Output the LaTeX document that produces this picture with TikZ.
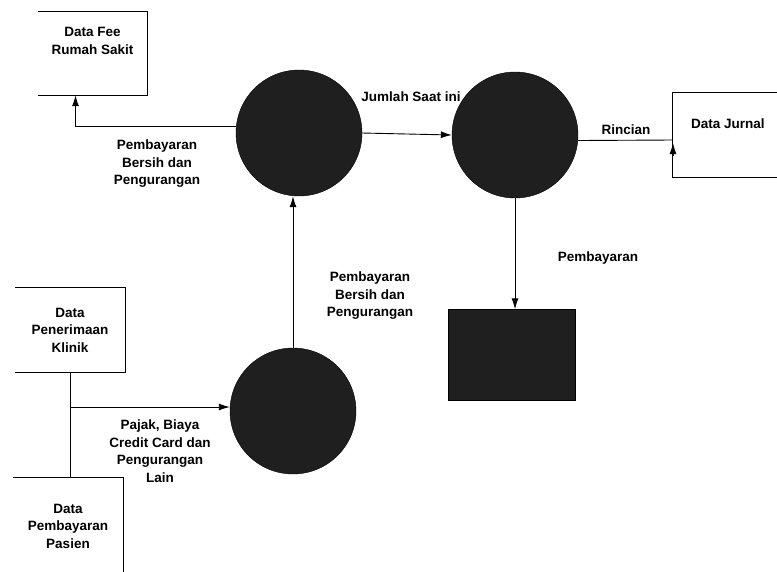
\documentclass[tikz,border=0pt]{standalone}
\usepackage{fontspec}
\setmainfont{Liberation Sans}
\usetikzlibrary{arrows.meta}

\begin{document}
\begin{tikzpicture}[x=1pt,y=-1pt]
            \tikzset{
            dfd proc/.style={circle,draw,fill=black!88,minimum size=126pt,inner sep=0},
            dfd store/.style={rectangle,inner sep=0,align=center,font=\fontsize{13.5}{17.5}\selectfont\bfseries},
            dfd label/.style={align=center,font=\fontsize{13.5}{17.5}\selectfont\bfseries},
            dfd flow/.style={-{Latex[length=11pt,width=7pt]},line width=0.9pt},
            dfd line/.style={line width=0.9pt}
            }
            \useasboundingbox (0,0) rectangle (777,571);
            \node[dfd store,minimum width=109pt,minimum height=83pt] (fee) at (92.5,53.5) {Data Fee\\Rumah Sakit\\[8pt]};
            \node[dfd store,minimum width=110pt,minimum height=84pt] (klinik) at (70,330) {Data\\Penerimaan\\Klinik};
            \node[dfd store,minimum width=110pt,minimum height=96pt] (pasien) at (68,526) {Data\\Pembayaran\\Pasien};
            \node[dfd store,minimum width=110pt,minimum height=84pt] (jurnal) at (728,135) {Data Jurnal\\[6pt]};
            \node[dfd proc] (c1) at (299,133) {};
            \node[dfd proc] (c2) at (515,135) {};
            \node[dfd proc] (c3) at (293,411) {};
            \node[rectangle,draw,fill=black!88,minimum width=127pt,minimum height=91pt] (sq) at (512,355) {};
            \node[dfd label] (L1) at (157,164) {Pembayaran\\Bersih dan\\Pengurangan};
            \node[dfd label] (L2) at (411,97) {Jumlah Saat ini};
            \node[dfd label] (L3) at (626,130) {Rincian};
            \node[dfd label] (L4) at (598,258) {Pembayaran};
            \node[dfd label] (L5) at (370,296) {Pembayaran\\Bersih dan\\Pengurangan};
            \node[dfd label] (L6) at (160,451) {Pajak, Biaya\\Credit Card dan\\Pengurangan\\Lain};
            \coordinate (jn) at (70,407);
            \coordinate (rin) at (673,140);

            % stores, one side left open
            \draw[dfd line] (fee.north west) -- (fee.north east) -- (fee.south east) -- (fee.south west);
            \draw[dfd line] (klinik.north west) -- (klinik.north east) -- (klinik.south east) -- (klinik.south west);
            \draw[dfd line] (pasien.north west) -- (pasien.north east) -- (pasien.south east);
            \draw[dfd line] (jurnal.north east) -- (jurnal.north west) -- (jurnal.south west) -- (jurnal.south east);

            \draw[dfd flow] (c1.174) -| ([xshift=-17pt]fee.south);
            \path[dfd flow]
            (c1.east) edge[] (c2.west)
            (c3.north) edge[] (c3.north |- c1.south)
            (c2.south) edge[] (c2.south |- sq.north)
            (jn) edge[] (jn -| c3.west)
            ;
            \path[dfd line]
            (klinik.south) edge[] (jn)
            (jn) edge[] (jn |- pasien.north)
            (c2.-5) edge[] (rin)
            ;
            \draw[dfd flow] ([yshift=-16pt]rin) -- ([yshift=-3pt]rin);
        \end{tikzpicture}
\end{document}
